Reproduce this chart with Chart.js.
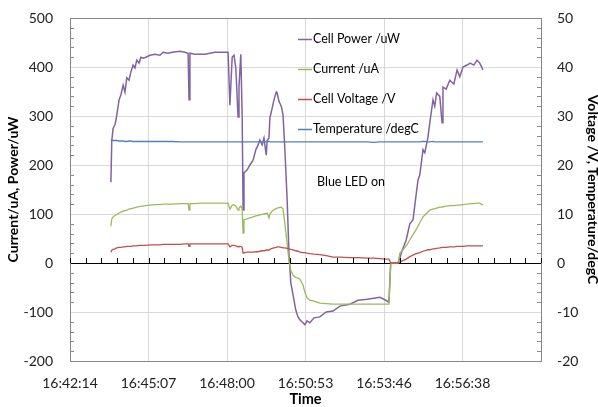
<!DOCTYPE html>
<html>
<head>
<meta charset="utf-8">
<script src="https://cdn.jsdelivr.net/npm/chart.js@4.4.1/dist/chart.umd.min.js"></script>
<style>
  html, body { margin: 0; padding: 0; background: #fff; }
  #wrap { width: 598px; height: 407px; }
</style>
</head>
<body>
<div id="wrap"><canvas id="chart" width="598" height="407"></canvas></div>
<script>
// seconds after 16:42:14 (left edge of the time axis)
const times = [
  90, 92, 95, 99, 103, 108, 112, 117, 121, 125,
  130, 134, 139, 143, 147, 152, 156, 161, 167, 176,
  187, 198, 205, 216, 225, 242, 253, 260, 262, 264,
  275, 286, 297, 308, 319, 330, 348, 352, 357, 361,
  365, 370, 372, 376, 379, 381, 383, 390, 396, 403,
  409, 414, 418, 423, 427, 432, 434, 438, 440, 445,
  449, 454, 456, 460, 465, 469, 473, 478, 482, 486,
  491, 497, 502, 506, 513, 517, 522, 528, 537, 550,
  564, 579, 594, 616, 634, 654, 669, 682, 693, 702,
  706, 722, 726, 733, 740, 748, 755, 762, 766, 770,
  777, 781, 788, 792, 799, 803, 807, 814, 819, 821,
  828, 836, 845, 852, 858, 865, 874, 881, 889, 896,
  902, 909
];
const cellPower = [
  165, 250, 275, 282, 302, 333, 343, 363, 349, 378,
  373, 390, 404, 398, 414, 408, 420, 418, 420, 424,
  426, 424, 430, 428, 430, 432, 430, 428, 333, 428,
  426, 426, 426, 428, 430, 430, 430, 322, 420, 424,
  398, 298, 360, 426, 300, 108, 184, 190, 200, 210,
  231, 241, 251, 241, 255, 220, 250, 255, 296, 316,
  333, 349, 347, 330, 320, 302, 231, 129, 20, -40,
  -65, -96, -110, -116, -122, -126, -118, -122, -112, -110,
  -100, -98, -88, -84, -76, -74, -72, -70, -75, -80,
  0, 0, 10, 30, 47, 80, 88, 140, 169, 180,
  231, 225, 257, 286, 333, 320, 347, 340, 286, 359,
  355, 373, 365, 394, 380, 400, 404, 408, 404, 414,
  408, 394
];
const current = [
  75, 90, 94, 97, 99, 102, 104, 106, 107, 108,
  110, 111, 112, 113, 114, 115, 116, 116, 117, 118,
  119, 119, 120, 120, 120, 121, 121, 121, 108, 121,
  121, 122, 122, 122, 122, 122, 122, 110, 118, 119,
  116, 108, 112, 116, 110, 61, 88, 90, 92, 94,
  96, 97, 98, 99, 100, 101, 102, 92, 100, 106,
  109, 111, 112, 113, 114, 110, 80, 40, 5, -15,
  -25, -30, -31, -33, -45, -60, -71, -76, -78, -82,
  -83, -84, -84, -84, -84, -84, -84, -84, -84, -84,
  0, 0, 20, 27, 35, 47, 58, 68, 75, 82,
  94, 98, 104, 108, 110, 111, 112, 114, 114, 115,
  116, 117, 117, 118, 118, 119, 120, 121, 121, 122,
  122, 118
];
const cellVoltage = [
  2.2, 2.6, 2.8, 2.9, 3.1, 3.2, 3.2, 3.3, 3.3, 3.4,
  3.4, 3.4, 3.5, 3.5, 3.5, 3.6, 3.6, 3.6, 3.6, 3.7,
  3.7, 3.7, 3.8, 3.8, 3.8, 3.8, 3.9, 3.9, 3.4, 3.9,
  3.9, 3.9, 3.9, 3.9, 3.9, 3.9, 3.9, 3.3, 3.6, 3.6,
  3.5, 3.3, 3.4, 3.4, 3.2, 2.0, 2.1, 2.2, 2.2, 2.2,
  2.3, 2.3, 2.4, 2.5, 2.5, 2.6, 2.7, 2.6, 2.8, 3.0,
  3.1, 3.2, 3.3, 3.3, 3.2, 3.1, 3.1, 3.0, 2.9, 2.8,
  2.7, 2.5, 2.4, 2.2, 2.1, 2.1, 2.0, 1.9, 1.8, 1.7,
  1.5, 1.2, 1.2, 1.1, 1.1, 1.0, 1.0, 0.9, 0.8, 0.8,
  0, 0, 0.2, 0.5, 0.8, 1.3, 1.6, 1.9, 2.0, 2.1,
  2.4, 2.5, 2.7, 2.7, 2.9, 2.9, 3.0, 3.1, 3.2, 3.2,
  3.2, 3.3, 3.3, 3.4, 3.4, 3.4, 3.5, 3.5, 3.5, 3.5,
  3.5, 3.5
];
const temperature = [
  25.1, 25.1, 25.0, 25.0, 25.0, 24.9, 24.9, 24.9, 24.8, 24.8,
  24.9, 24.9, 24.8, 24.8, 24.8, 24.8, 24.8, 24.8, 24.8, 24.8,
  24.8, 24.8, 24.8, 24.8, 24.8, 24.7, 24.7, 24.7, 24.7, 24.7,
  24.7, 24.7, 24.7, 24.7, 24.7, 24.7, 24.7, 24.7, 24.7, 24.7,
  24.7, 24.7, 24.7, 24.7, 24.7, 24.7, 24.7, 24.7, 24.7, 24.7,
  24.7, 24.7, 24.7, 24.7, 24.7, 24.8, 24.8, 24.8, 24.7, 24.7,
  24.7, 24.7, 24.7, 24.7, 24.7, 24.7, 24.7, 24.7, 24.7, 24.7,
  24.7, 24.7, 24.7, 24.7, 24.7, 24.7, 24.7, 24.7, 24.7, 24.7,
  24.7, 24.7, 24.7, 24.7, 24.7, 24.7, 24.6, 24.7, 24.7, 24.7,
  24.7, 24.7, 24.7, 24.7, 24.7, 24.7, 24.7, 24.7, 24.7, 24.7,
  24.8, 24.8, 24.7, 24.7, 24.8, 24.7, 24.7, 24.7, 24.7, 24.7,
  24.7, 24.7, 24.7, 24.7, 24.7, 24.7, 24.7, 24.7, 24.7, 24.7,
  24.7, 24.7
];
const timeLabels = ['16:42:14', '16:45:07', '16:48:00', '16:50:53', '16:53:46', '16:56:38'];
const seriesNames = ['Cell Power /uW', 'Current /uA', 'Cell Voltage /V', 'Temperature /degC'];

const timeSpan = 1036.8;   // 0.012 day
const timeStep = 172.8;    // 0.002 day
const FONT = 'Lato, "Open Sans", sans-serif';

function pts(values) {
    return times.map(function(t, i) { return { x: t, y: values[i] }; });
}

// legend, note text and the small minor ticks
const extras = {
    id: 'extras',
    afterDatasetsDraw(chart) {
        const ctx = chart.ctx;
        const xs = chart.scales.x;
        const ys = chart.scales.y;
        const area = chart.chartArea;
        const y0 = Math.round(ys.getPixelForValue(0));
        ctx.save();
        ctx.lineWidth = 1;

        // minor ticks on both value axes, pointing inward
        ctx.strokeStyle = '#8c8c8c';
        for (let v = -200; v <= 500; v += 20) {
            if (v % 100 === 0) continue;
            const py = Math.round(ys.getPixelForValue(v)) + 0.5;
            ctx.beginPath();
            ctx.moveTo(area.left, py);
            ctx.lineTo(area.left + 4, py);
            ctx.moveTo(area.right, py);
            ctx.lineTo(area.right - 4, py);
            ctx.stroke();
        }

        // ticks standing on the zero line
        ctx.strokeStyle = '#000';
        for (let t = 0; t <= timeSpan + 0.01; t += timeStep / 5) {
            const px = Math.round(xs.getPixelForValue(t)) + 0.5;
            ctx.beginPath();
            ctx.moveTo(px, y0);
            ctx.lineTo(px, y0 - 5);
            ctx.stroke();
        }

        ctx.font = '12.5px ' + FONT;
        ctx.textBaseline = 'middle';
        ctx.fillStyle = '#000';
        chart.data.datasets.forEach(function(ds, i) {
            const ly = 39 + i * 30;
            ctx.strokeStyle = ds.borderColor;
            ctx.lineWidth = 1.5;
            ctx.beginPath();
            ctx.moveTo(298, ly + 0.5);
            ctx.lineTo(312, ly + 0.5);
            ctx.stroke();
            ctx.fillText(ds.label, 313, ly);
        });
        ctx.fillText('Blue LED on', 317, 182);
        ctx.restore();
    }
};

function fixY(width) {
    return function(scale) {
        scale.width = width;
        scale.paddingTop = 0;
        scale.paddingBottom = 0;
    };
}

const ctx = document.getElementById('chart').getContext('2d');
const chart = new Chart(ctx, {
    type: 'line',
    data: {
        datasets: [
            { label: seriesNames[0], data: pts(cellPower), borderColor: '#8064a2', yAxisID: 'y', order: 4, borderWidth: 1.5 },
            { label: seriesNames[1], data: pts(current), borderColor: '#9bbb59', yAxisID: 'y', order: 3, borderWidth: 1.3 },
            { label: seriesNames[2], data: pts(cellVoltage), borderColor: '#c0504d', yAxisID: 'y2', order: 2, borderWidth: 1.3 },
            { label: seriesNames[3], data: pts(temperature), borderColor: '#4f81bd', yAxisID: 'y2', order: 1, borderWidth: 1.3 }
        ]
    },
    options: {
        responsive: false,
        animation: false,
        events: [],
        elements: { point: { radius: 0 }, line: { tension: 0 } },
        layout: { padding: { top: 18, left: 0, right: 0, bottom: 0 } },
        plugins: { legend: { display: false }, tooltip: { enabled: false } },
        scales: {
            x: {
                type: 'linear',
                min: 0,
                max: timeSpan,
                afterBuildTicks(scale) {
                    scale.ticks = timeLabels.concat(['']).map(function(l, i) { return { value: i * timeStep }; });
                },
                afterFit(scale) { scale.height = 46; },
                ticks: {
                    autoSkip: false,
                    maxRotation: 0,
                    padding: 14,
                    color: '#222',
                    font: { family: FONT, size: 14 },
                    callback: function(v, i) { return timeLabels[i] || ''; }
                },
                grid: { color: '#d9d9d9', drawTicks: false },
                border: { color: '#868686' },
                title: {
                    display: true, text: 'Time', color: '#000',
                    font: { family: FONT, size: 14.5, weight: 'bold', lineHeight: 1 },
                    padding: { top: 0, bottom: 0 }
                }
            },
            y: {
                position: 'left',
                min: -200,
                max: 500,
                ticks: { stepSize: 100, padding: 17, color: '#222', font: { family: FONT, size: 14 } },
                afterFit: fixY(70),
                grid: {
                    drawTicks: false,
                    color: function(c) {
                        if (c.tick.value === 0) return '#000';
                        if (c.tick.value === 500) return '#868686';
                        return '#d9d9d9';
                    }
                },
                border: { color: '#868686' },
                title: {
                    display: true, text: 'Current/uA, Power/uW', color: '#000',
                    font: { family: FONT, size: 14, weight: 'bold', lineHeight: 1 },
                    padding: { top: 6, bottom: 0 }
                }
            },
            y2: {
                position: 'right',
                min: -20,
                max: 50,
                ticks: { stepSize: 10, padding: 16, color: '#222', font: { family: FONT, size: 14 } },
                afterFit: fixY(57),
                grid: { display: false, drawTicks: false },
                border: { color: '#868686' },
                title: {
                    display: true, text: 'Voltage /V, Temperature/degC', color: '#000',
                    font: { family: FONT, size: 14, weight: 'bold', lineHeight: 1 },
                    padding: { top: -2, bottom: 0 }
                }
            }
        }
    },
    plugins: [extras]
});
</script>
</body>
</html>
